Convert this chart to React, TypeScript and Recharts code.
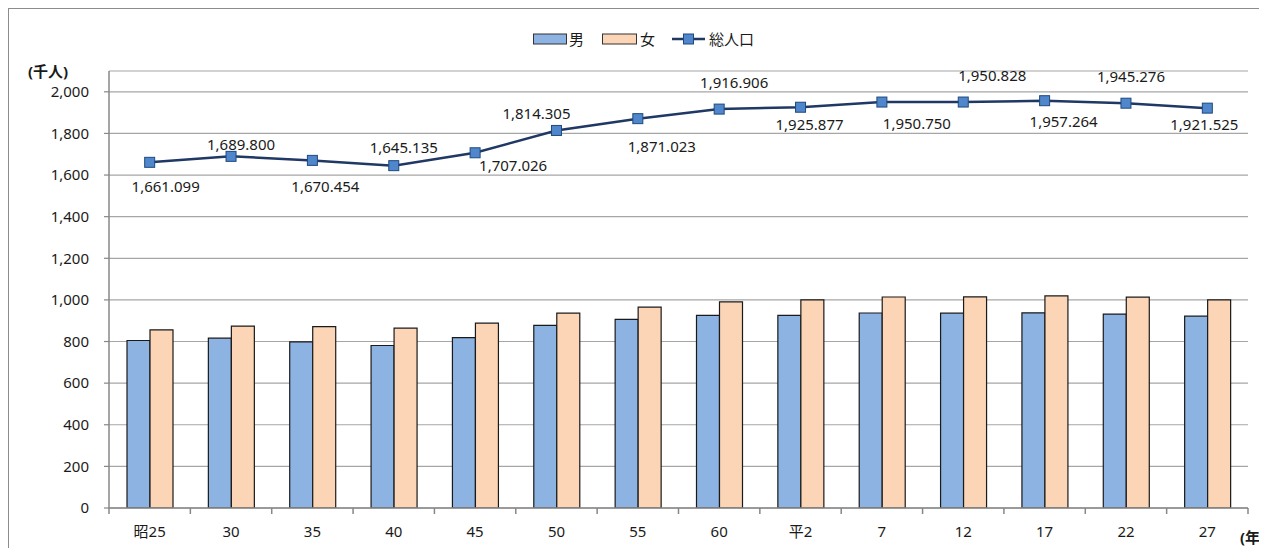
import React from 'react';
import { ComposedChart, Bar, Line, XAxis, YAxis, CartesianGrid, LabelList } from 'recharts';

const categories = ['昭25', '30', '35', '40', '45', '50', '55', '60', '平2', '7', '12', '17', '22', '27'];
const male = [805, 816, 798, 781, 819, 878, 906, 926, 926, 937, 936, 938, 932, 922];
const female = [856, 874, 872, 864, 888, 936, 965, 991, 1000, 1014, 1015, 1019, 1013, 1000];
const total = [1661.099, 1689.8, 1670.454, 1645.135, 1707.026, 1814.305, 1871.023, 1916.906, 1925.877, 1950.75, 1950.828, 1957.264, 1945.276, 1921.525];
const yTicks = [0, 200, 400, 600, 800, 1000, 1200, 1400, 1600, 1800, 2000];
const seriesNames = { male: '男', female: '女', total: '総人口' };

// label placement offsets (dx, dy) relative to each line point
const labelOffsets = [[16, 24], [10, -12], [13, 26], [10, -19], [38, 12], [-20, -17], [24, 27], [15, -27], [9, 17], [35, 21], [29, -27], [19, 20], [5, -27], [-3, 16]];

const data = categories.map((c, i) => ({ cat: c, male: male[i], female: female[i], total: total[i] }));

const W = 1259;
const H = 540;
const M = { top: 62, right: 20, bottom: 11, left: 0 };
const YW = 100;
const XH = 30;
const PLOT_W = W - M.left - M.right - YW;
const PLOT_BOTTOM = H - M.bottom - XH;
const BAND = PLOT_W / categories.length;

const FONT = '"Noto Sans", "Noto Sans CJK JP", sans-serif';
const AXIS = '#878787';
const BLUE = '#8db3e2';
const PEACH = '#fbd5b5';
const NAVY = '#1f3864';
const MARK = '#4f86cc';

const fmt = (v: number) => v.toLocaleString('en-US', { minimumFractionDigits: 3, maximumFractionDigits: 3 });

const XTick = (props: any) => {
  const { x, payload, index } = props;
  const y = PLOT_BOTTOM;
  return (
    <g>
      <line x1={x - BAND / 2} x2={x - BAND / 2} y1={y} y2={y + 6} stroke={AXIS} strokeWidth={1.5} />
      {index === categories.length - 1 && (
        <line x1={x + BAND / 2} x2={x + BAND / 2} y1={y} y2={y + 6} stroke={AXIS} strokeWidth={1.5} />
      )}
      <text x={x} y={y + 23} textAnchor="middle" dominantBaseline="central" fontSize={15} fill="#1a1a1a" fontFamily={FONT}>
        {payload.value}
      </text>
    </g>
  );
};

const SquareDot = (props: any) => {
  const { cx, cy } = props;
  if (cx == null || cy == null) return null;
  return <rect x={cx - 5} y={cy - 5} width={10} height={10} fill={MARK} stroke="#1f497d" strokeWidth={1} />;
};

const TotalLabel = (props: any) => {
  const { x, y, value, index } = props;
  const off = labelOffsets[index] || [0, -15];
  return (
    <text x={x + off[0]} y={y + off[1]} textAnchor="middle" dominantBaseline="central" fontSize={15} fill="#1a1a1a" fontFamily={FONT}>
      {fmt(value)}
    </text>
  );
};

export default function App() {
  return (
    <div
      style={{
        position: 'relative',
        width: W,
        height: H,
        borderTop: '1px solid #8c8c8c',
        borderLeft: '1px solid #8c8c8c',
        overflow: 'hidden',
        fontFamily: FONT,
        background: '#fff',
      }}
    >
      <ComposedChart width={W} height={H} data={data} margin={M} barGap={0} barSize={23}>
        <CartesianGrid vertical={false} stroke="#a6a6a6" strokeWidth={1.2} />
        <XAxis
          dataKey="cat"
          height={XH}
          axisLine={{ stroke: AXIS, strokeWidth: 1.5 }}
          tickLine={false}
          tick={<XTick />}
          interval={0}
        />
        <YAxis
          width={YW}
          domain={[0, 2100]}
          ticks={yTicks}
          allowDataOverflow
          axisLine={{ stroke: AXIS, strokeWidth: 1.5 }}
          tickLine={{ stroke: AXIS, strokeWidth: 1.2 }}
          tickSize={5}
          tickMargin={15}
          tick={{ fontSize: 15, fill: '#1a1a1a', fontFamily: FONT }}
          tickFormatter={(v: number) => v.toLocaleString('en-US')}
        />
        <Bar dataKey="male" name={seriesNames.male} fill={BLUE} stroke="#1a1a1a" strokeWidth={1.2} isAnimationActive={false} />
        <Bar dataKey="female" name={seriesNames.female} fill={PEACH} stroke="#1a1a1a" strokeWidth={1.2} isAnimationActive={false} />
        <Line
          dataKey="total"
          name={seriesNames.total}
          type="linear"
          stroke={NAVY}
          strokeWidth={2.5}
          dot={<SquareDot />}
          activeDot={false}
          isAnimationActive={false}
        >
          <LabelList dataKey="total" content={<TotalLabel />} />
        </Line>
      </ComposedChart>

      <svg style={{ position: 'absolute', left: 524, top: 18 }} width={260} height={24}>
        <rect x={0.5} y={7} width={33} height={10} fill={BLUE} stroke="#333" strokeWidth={1} />
        <text x={36} y={12} dominantBaseline="central" fontSize={15} fill="#1a1a1a" fontFamily={FONT}>{seriesNames.male}</text>
        <rect x={69.5} y={7} width={34} height={10} fill={PEACH} stroke="#333" strokeWidth={1} />
        <text x={107} y={12} dominantBaseline="central" fontSize={15} fill="#1a1a1a" fontFamily={FONT}>{seriesNames.female}</text>
        <line x1={139} x2={172} y1={12} y2={12} stroke={NAVY} strokeWidth={2.5} />
        <rect x={150.5} y={7} width={10} height={10} fill={MARK} stroke="#1f497d" strokeWidth={1} />
        <text x={176} y={12} dominantBaseline="central" fontSize={15} fill="#1a1a1a" fontFamily={FONT}>{seriesNames.total}</text>
      </svg>

      <div style={{ position: 'absolute', left: 19, top: 52, fontSize: 15, fontWeight: 'bold', color: '#1a1a1a', lineHeight: '20px' }}>
        (千人)
      </div>
      <div style={{ position: 'absolute', left: 1231, top: 518, fontSize: 15, fontWeight: 'bold', color: '#1a1a1a', lineHeight: '20px', whiteSpace: 'nowrap' }}>
        (年)
      </div>
    </div>
  );
}
